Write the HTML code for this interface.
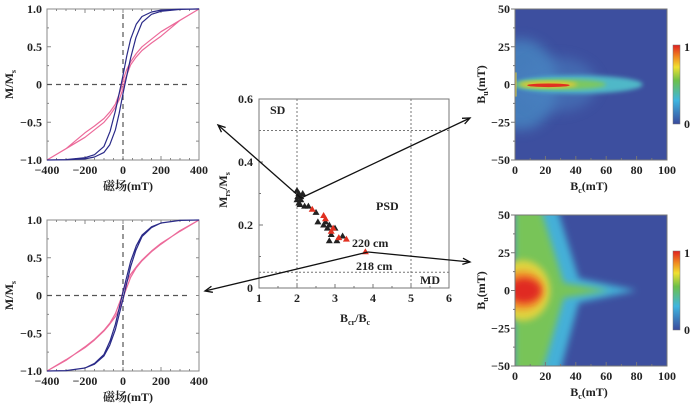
<!DOCTYPE html>
<html><head><meta charset="utf-8">
<style>
html,body{margin:0;padding:0;background:#fff;}
svg{display:block;font-family:"Liberation Serif","Noto Serif CJK SC",serif;}
.t{font-size:12px;font-weight:bold;fill:#222;}
</style></head>
<body>
<svg id="fig" width="700" height="408" viewBox="0 0 700 408" xmlns="http://www.w3.org/2000/svg">
<defs>
<filter id="b2" x="-20%" y="-20%" width="140%" height="140%"><feGaussianBlur stdDeviation="2"/></filter>
<filter id="b3" x="-20%" y="-20%" width="140%" height="140%"><feGaussianBlur stdDeviation="3.5"/></filter>
<filter id="b6" x="-30%" y="-30%" width="160%" height="160%"><feGaussianBlur stdDeviation="6"/></filter>
<linearGradient id="cb" x1="0" y1="1" x2="0" y2="0">
<stop offset="0" stop-color="#3a4a9c"/><stop offset="0.3" stop-color="#3fb6e0"/><stop offset="0.55" stop-color="#6cc04a"/><stop offset="0.72" stop-color="#f0e030"/><stop offset="0.85" stop-color="#f08a20"/><stop offset="1" stop-color="#e02020"/></linearGradient>
<clipPath id="c1"><rect x="515" y="9" width="152" height="151"/></clipPath>
<clipPath id="c2"><rect x="515" y="215" width="152" height="151"/></clipPath>
</defs>
<g id="hl1"></g>
<g id="hl2"></g>
<g id="day"></g>
<g id="f1"></g>
<g id="f2"></g>
<g id="arrows"></g>
</svg>
<script>
// Hysteresis data (descending branch; ascending is point-symmetric)
const hField = [-400,-300,-200,-150,-100,-68,-40,-10,0,20,40,70,100,150,200,300,400];
const hBlue1 = [-1,-0.995,-0.97,-0.93,-0.82,-0.62,-0.35,0,0.12,0.38,0.6,0.8,0.9,0.96,0.985,0.998,1];
const hPink1 = [-1,-0.85,-0.64,-0.55,-0.45,-0.36,-0.26,-0.06,0.06,0.2,0.3,0.41,0.5,0.6,0.7,0.85,1];
const hBlue2 = [-1,-0.995,-0.96,-0.9,-0.78,-0.6,-0.38,-0.06,0.05,0.25,0.45,0.66,0.8,0.91,0.96,0.995,1];
const hPink2 = [-1,-0.86,-0.68,-0.58,-0.46,-0.36,-0.24,-0.04,0.05,0.18,0.28,0.38,0.47,0.59,0.69,0.85,1];
const hxTicks = [-400,-200,0,200,400];
const hyTicks = [1.0,0.5,0,-0.5,-1.0];
const hyLabels = ["1.0","0.5","0","\u22120.5","\u22121.0"];
const hxLabels = ["\u2212400","\u2212200","0","200","400"];
// Day plot data
const dayBlackX = [2.0,2.05,2.1,2.0,2.05,2.1,2.15,2.2,2.3,2.5,2.55,2.7,2.75,2.8,2.85,2.9,2.85,3.05,3.2,3.0,2.02,2.08];
const dayBlackY = [0.31,0.30,0.29,0.28,0.27,0.28,0.30,0.26,0.26,0.24,0.21,0.20,0.21,0.19,0.20,0.17,0.15,0.15,0.165,0.19,0.29,0.265];
const dayRedX = [2.4,2.7,2.75,2.9,2.95,3.1,3.3,3.8];
const dayRedY = [0.25,0.23,0.22,0.18,0.19,0.16,0.155,0.115];
const dayXTicks = [1,2,3,4,5,6];
const dayYTicks = [0,0.2,0.4,0.6];
const forcXTicks = [0,20,40,60,80,100];
const forcYTicks = [50,25,0,-25,-50];

const NS="http://www.w3.org/2000/svg";
function mk(parent,tag,attrs,text){const e=document.createElementNS(NS,tag);for(const k in attrs)e.setAttribute(k,attrs[k]);if(text!==undefined)e.textContent=text;parent.appendChild(e);return e;}

function hyst(gid,top,blue,pink){
  const g=document.getElementById(gid);
  const L=47,R=199,T=top,B=top+151;
  const sx=v=>L+(v+400)/800*(R-L), sy=v=>T+(1-v)/2*(B-T);
  const f=mk(g,'rect',{x:L,y:T,width:R-L,height:B-T,fill:'none',stroke:'#888','stroke-width':1});
  
  for(let v=-400;v<=400;v+=50){mk(g,'line',{x1:sx(v),x2:sx(v),y1:B,y2:B-(v%200===0?4:2),stroke:'#888'});mk(g,'line',{x1:sx(v),x2:sx(v),y1:T,y2:T+(v%200===0?4:2),stroke:'#888'});}
  for(let v=-1;v<=1.001;v+=0.25){mk(g,'line',{x1:L,x2:L+(Math.abs(v*2%1)<0.01?4:2),y1:sy(v),y2:sy(v),stroke:'#888'});mk(g,'line',{x1:R,x2:R-3,y1:sy(v),y2:sy(v),stroke:'#888'});}
  mk(g,'line',{x1:L,x2:R-8,y1:sy(0),y2:sy(0),stroke:'#555','stroke-dasharray':'5,4','stroke-width':1.2});
  mk(g,'line',{x1:sx(0),x2:sx(0),y1:T+5,y2:B,stroke:'#555','stroke-dasharray':'5,4','stroke-width':1.2});
  hyTicks.forEach((v,i)=>{const t=mk(g,'text',{x:L-5,y:sy(v)+4,'text-anchor':'end','class':'t'},hyLabels[i]);});
  hxTicks.forEach((v,i)=>{const t=mk(g,'text',{x:sx(v),y:B+14,'text-anchor':'middle','class':'t'},hxLabels[i]);});
  const xl=mk(g,'text',{x:(L+R)/2+5,y:B+30,'text-anchor':'middle','class':'t','font-weight':'normal'},'磁场(mT)');
  
  const yl=mk(g,'text',{x:0,y:0,'text-anchor':'middle','class':'t',transform:`translate(13,${(T+B)/2}) rotate(-90)`});
  
  yl.innerHTML='M/M<tspan font-size="8" dy="3">s</tspan>';
  function loop(vals,color,name){
    let d='';hField.forEach((h,i)=>{d+=(i?'L':'M')+sx(h).toFixed(1)+','+sy(vals[i]).toFixed(1);});
    let d2='';hField.forEach((h,i)=>{d2+=(i?'L':'M')+sx(-h).toFixed(1)+','+sy(-vals[i]).toFixed(1);});
    const p=mk(g,'path',{d:d+' '+d2,fill:'none',stroke:color,'stroke-width':1.2,'stroke-linejoin':'round'});
    
  }
  loop(pink,'#ec6a9a','pink-loop');
  loop(blue,'#2a2a88','blue-loop');
}
hyst('hl1',9,hBlue1,hPink1);
hyst('hl2',220,hBlue2,hPink2);

// Day plot
(function(){
  const g=document.getElementById('day');
  const L=259,R=449,T=99,B=288;
  const sx=v=>L+(v-1)/5*(R-L), sy=v=>B-v/0.6*(B-T);
  const f=mk(g,'rect',{x:L,y:T,width:R-L,height:B-T,fill:'none',stroke:'#777'});
  
  [[sx(2),T,sx(2),B],[sx(5),T,sx(5),B],[L,sy(0.5),R,sy(0.5)],[L,sy(0.05),R,sy(0.05)]].forEach(a=>{const l=mk(g,'line',{x1:a[0],y1:a[1],x2:a[2],y2:a[3],stroke:'#777','stroke-dasharray':'2,2'});});
  for(let v=1;v<=6;v+=0.5){mk(g,'line',{x1:sx(v),x2:sx(v),y1:B,y2:B-(v%1?2:4),stroke:'#777'});}
  for(let v=0;v<=0.6001;v+=0.1){mk(g,'line',{x1:L,x2:L+(Math.round(v*10)%2?2:4),y1:sy(v),y2:sy(v),stroke:'#777'});}
  dayXTicks.forEach(v=>{const t=mk(g,'text',{x:sx(v),y:B+14,'text-anchor':'middle','class':'t','font-weight':'normal'},String(v));});
  dayYTicks.forEach(v=>{const t=mk(g,'text',{x:L-6,y:sy(v)+4,'text-anchor':'end','class':'t','font-weight':'normal'},String(v));});
  const yl=mk(g,'text',{x:0,y:0,'text-anchor':'middle','class':'t',transform:`translate(227,190) rotate(-90)`});
  
  yl.innerHTML='M<tspan font-size="8" dy="3">rs</tspan><tspan dy="-3">/M</tspan><tspan font-size="8" dy="3">s</tspan>';
  const xl=mk(g,'text',{x:355,y:322,'text-anchor':'middle','class':'t'});
  
  xl.innerHTML='B<tspan font-size="8" dy="3">cr</tspan><tspan dy="-3">/B</tspan><tspan font-size="8" dy="3">c</tspan>';
  [['SD',270,114],['PSD',376,210],['220 cm',352,247],['218 cm',356,270],['MD',420,284]].forEach(a=>{const t=mk(g,'text',{x:a[1],y:a[2],'class':'t','font-weight':'normal'},a[0]);});
  function tri(x,y,c){const X=sx(x),Y=sy(y);const p=mk(g,'path',{d:`M${X},${Y-3.5}L${X+3.5},${Y+2.5}L${X-3.5},${Y+2.5}Z`,fill:c});}
  dayBlackX.forEach((x,i)=>tri(x,dayBlackY[i],'#222'));
  dayRedX.forEach((x,i)=>tri(x,dayRedY[i],'#e03020'));
})();

// FORC diagrams
function forc(gid,top,clip,type){
  const g=document.getElementById(gid);
  const L=515,R=667,T=top,B=top+151;
  const sx=v=>L+v/100*(R-L), sy=v=>T+(50-v)/100*(B-T);
  const sc=(R-L)/100, sv=(B-T)/100;
  const h=mk(g,'g',{'clip-path':`url(#${clip})`});
  
  mk(h,'rect',{x:L,y:T,width:R-L,height:B-T,fill:'#3d4f9f'});
  if(type===1){
    mk(h,'ellipse',{cx:sx(4),cy:sy(0),rx:24*sc,ry:30*sv,fill:'#4a90c8',opacity:0.7,filter:'url(#b6)'});
    mk(h,'ellipse',{cx:sx(28),cy:sy(0),rx:26*sc,ry:18*sv,fill:'#4a80c0',opacity:0.55,filter:'url(#b6)'});
    mk(h,'ellipse',{cx:sx(42),cy:sy(0),rx:42*sc,ry:6*sv,fill:'#50b8c8',filter:'url(#b2)'});
    mk(h,'ellipse',{cx:sx(30),cy:sy(0),rx:30*sc,ry:3.5*sv,fill:'#7cc860',filter:'url(#b2)'});
    mk(h,'ellipse',{cx:sx(22),cy:sy(0),rx:19*sc,ry:2.2*sv,fill:'#e8c830',filter:'url(#b2)'});
    mk(h,'ellipse',{cx:sx(22),cy:sy(-0.5),rx:14*sc,ry:1.2*sv,fill:'#e03020'});
    mk(h,'rect',{x:L,y:sy(8),width:1.5,height:16*sv,fill:'#d8c840'});
  } else {
    mk(h,'path',{d:`M${sx(0)},${sy(60)}L${sx(26)},${sy(60)}L${sx(42)},${sy(8)}L${sx(80)},${sy(0)}L${sx(42)},${sy(-8)}L${sx(28)},${sy(-60)}L${sx(0)},${sy(-60)}Z`,fill:'#45b0d8',filter:'url(#b3)'});
    mk(h,'path',{d:`M${sx(0)},${sy(60)}L${sx(15)},${sy(60)}L${sx(32)},${sy(5)}L${sx(62)},${sy(0)}L${sx(32)},${sy(-5)}L${sx(16)},${sy(-60)}L${sx(0)},${sy(-60)}Z`,fill:'#78c458',filter:'url(#b3)'});
    mk(h,'ellipse',{cx:sx(5),cy:sy(0),rx:18*sc,ry:20*sv,fill:'#e0d440',filter:'url(#b3)'});
    mk(h,'ellipse',{cx:sx(5),cy:sy(0),rx:14*sc,ry:13*sv,fill:'#f0902a',filter:'url(#b3)'});
    mk(h,'ellipse',{cx:sx(6),cy:sy(0),rx:11*sc,ry:8*sv,fill:'#e02a20',filter:'url(#b3)'});
  }
  const f=mk(g,'rect',{x:L,y:T,width:R-L,height:B-T,fill:'none',stroke:'#777'});
  
  for(let v=0;v<=100;v+=10){mk(g,'line',{x1:sx(v),x2:sx(v),y1:B,y2:B-(v%20?2:4),stroke:'#777'});}
  for(let v=-50;v<=50;v+=12.5){mk(g,'line',{x1:L,x2:L-(v%25?2:4),y1:sy(v),y2:sy(v),stroke:'#777'});}
  forcXTicks.forEach(v=>{const t=mk(g,'text',{x:sx(v),y:B+14,'text-anchor':'middle','class':'t'},String(v));});
  forcYTicks.forEach(v=>{const t=mk(g,'text',{x:L-5,y:sy(v)+4,'text-anchor':'end','class':'t'},v<0?'\u2212'+(-v):String(v));});
  const xl=mk(g,'text',{x:(L+R)/2-2,y:B+30,'text-anchor':'middle','class':'t','font-weight':'normal'});
  
  xl.innerHTML='B<tspan font-size="8" dy="3">c</tspan><tspan dy="-3">(mT)</tspan>';
  const yl=mk(g,'text',{x:0,y:0,'text-anchor':'middle','class':'t','font-weight':'normal',transform:`translate(485,${(T+B)/2}) rotate(-90)`});
  
  yl.innerHTML='B<tspan font-size="8" dy="3">u</tspan><tspan dy="-3">(mT)</tspan>';
  const cy0=T+36, cy1=T+115;
  const cb=mk(g,'rect',{x:673,y:cy0,width:7,height:cy1-cy0,fill:'url(#cb)',stroke:'#777','stroke-width':0.5});
  
  const t1=mk(g,'text',{x:684,y:cy0+6,'class':'t'},'1');
  const t0=mk(g,'text',{x:684,y:cy1+4,'class':'t'},'0');
}
forc('f1',9,'c1',1);
forc('f2',215,'c2',2);

// Arrows
(function(){
  const g=document.getElementById('arrows');
  function arrow(x1,y1,x2,y2,head){
    const l=mk(g,'line',{x1,y1,x2,y2,stroke:'#111','stroke-width':1.3});
    
    if(head){const a=Math.atan2(y2-y1,x2-x1),s=8;
      mk(g,'path',{d:`M${x2-s*Math.cos(a-0.4)},${y2-s*Math.sin(a-0.4)}L${x2},${y2}L${x2-s*Math.cos(a+0.4)},${y2-s*Math.sin(a+0.4)}`,fill:'none',stroke:'#111','stroke-width':1.3});}
  }
  arrow(301,198,218,125,true);
  arrow(301,198,470,118,true);
  arrow(368,252,205,291,true);
  arrow(368,252,470,262,true);
})();
</script>
</body></html>
